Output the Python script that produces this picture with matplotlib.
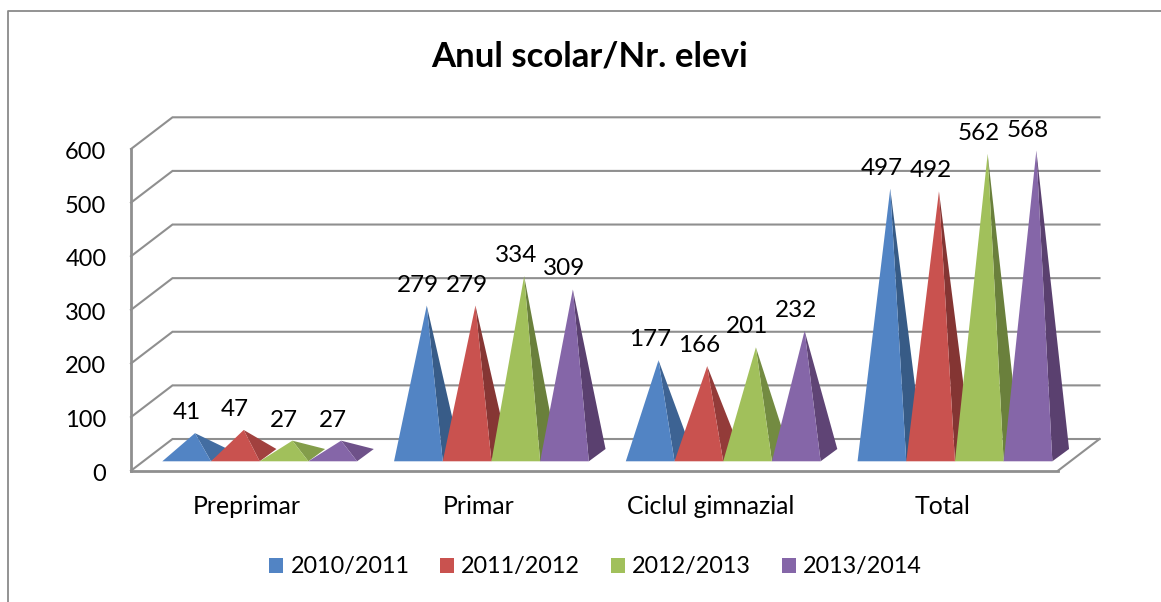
import matplotlib
matplotlib.use("Agg")
import matplotlib.pyplot as plt
from matplotlib.colors import to_rgb
from matplotlib.patches import Polygon, Patch
from matplotlib.lines import Line2D
from matplotlib.transforms import ScaledTranslation

plt.rcParams['font.family'] = ['Lato', 'DejaVu Sans']

title = "Anul scolar/Nr. elevi"
categories = ["Preprimar", "Primar", "Ciclul gimnazial", "Total"]
series_names = ["2010/2011", "2011/2012", "2012/2013", "2013/2014"]
v_2010 = [41, 279, 177, 497]
v_2011 = [47, 279, 166, 492]
v_2012 = [27, 334, 201, 562]
v_2013 = [27, 309, 232, 568]
series_values = [v_2010, v_2011, v_2012, v_2013]
y_ticks = [0, 100, 200, 300, 400, 500, 600]
front_colors = ["#5284C4", "#C9524F", "#A1C05B", "#8566A8"]
side_colors = ["#375B86", "#843533", "#6A803C", "#5A406F"]


def side_shade(s, v):
    # low pyramids catch more light on their side face
    t = min(1.0, 0.5 + v / 600)
    f, d = to_rgb(front_colors[s]), to_rgb(side_colors[s])
    return tuple(a + (b - a) * t for a, b in zip(f, d))


W, H = 1161, 602
fig = plt.figure(figsize=(W / 100, H / 100), dpi=100)
L, R, B, T = 131.0, 1058.0, 470.7, 149.0
ax = fig.add_axes([L / W, 1 - B / H, (R - L) / W, (B - T) / H])
ax.set_xlim(0, 4)
ax.set_ylim(0, 600)

# pixel -> data scale factors
sx = 4 / (R - L)
sy = 600 / (B - T)
dep_x, dep_y = 41.5 * sx, 31.7 * sy     # full depth of the floor
base_w = 48.7 * sx
b_dx, b_dy = 16.7 * sx, 12.3 * sy       # depth of a pyramid base
floor_off_y = 9.4 * sy                  # base front edge above floor front
group_start = 31.3 * sx

GRID = "#8f8f8f"
lw = 1.5
for t in y_ticks:
    ax.plot([0, dep_x, 4 + dep_x], [t, t + dep_y, t + dep_y], color=GRID, lw=lw,
            clip_on=False, zorder=1, solid_joinstyle="miter")
ax.plot([4, 4 + dep_x], [0, dep_y], color=GRID, lw=lw, clip_on=False, zorder=1)

for s, vals in enumerate(series_values):
    for c, v in enumerate(vals):
        x0 = c + group_start + s * base_w
        x1 = x0 + base_w
        y0 = floor_off_y
        apex = (x0 + base_w / 2 + b_dx / 2, y0 + b_dy / 2 + v)
        z = 3 + c * 10 + s * 2
        ax.add_patch(Polygon([(x1, y0), (x1 + b_dx, y0 + b_dy), apex], closed=True,
                             fc=side_shade(s, v), ec="none", clip_on=False, zorder=z))
        ax.add_patch(Polygon([(x0, y0), (x1, y0), apex], closed=True,
                             fc=front_colors[s], ec="none", clip_on=False, zorder=z + 1))
        ax.annotate(str(v), xy=apex, xytext=(-8.5 * 0.72, 20.5 * 0.72),
                    textcoords="offset points", ha="center", va="center",
                    fontsize=17.5, color="black", zorder=100, annotation_clip=False)

for side in ("top", "right"):
    ax.spines[side].set_visible(False)
for side in ("left", "bottom"):
    ax.spines[side].set_color(GRID)
    ax.spines[side].set_linewidth(lw + 0.5)
ax.set_yticks(y_ticks)
ax.set_xticks([0.5, 1.5, 2.5, 3.5])
ax.set_xticklabels(categories)
ax.tick_params(axis="y", length=0, pad=17.7, labelsize=17)
ax.tick_params(axis="x", length=0, pad=17.3, labelsize=17.9)
shift = ScaledTranslation(0, -1.5 / 100, fig.dpi_scale_trans)
for lab in ax.get_yticklabels():
    lab.set_transform(lab.get_transform() + shift)
ax.patch.set_alpha(0)

fig.text(590 / W, 1 - 57 / H, title, ha="center", va="center",
         fontsize=25, fontweight="bold", color="black")

handles = [Patch(fc=c, ec="none") for c in front_colors]
fig.legend(handles, series_names, loc="center", bbox_to_anchor=(595.5 / W, 1 - 567 / H),
           ncols=4, frameon=False, fontsize=16.8, handlelength=0.6, handleheight=0.62,
           handletextpad=0.3, columnspacing=1.32, borderaxespad=0, borderpad=0)

# outer chart border (top and left edges are visible in the crop)
border = Line2D([8 / W, 8 / W, 1], [0, 1 - 11 / H, 1 - 11 / H],
                transform=fig.transFigure, color="#8a8a8a", lw=1.3)
fig.add_artist(border)

fig.savefig("out.png", dpi=100)
